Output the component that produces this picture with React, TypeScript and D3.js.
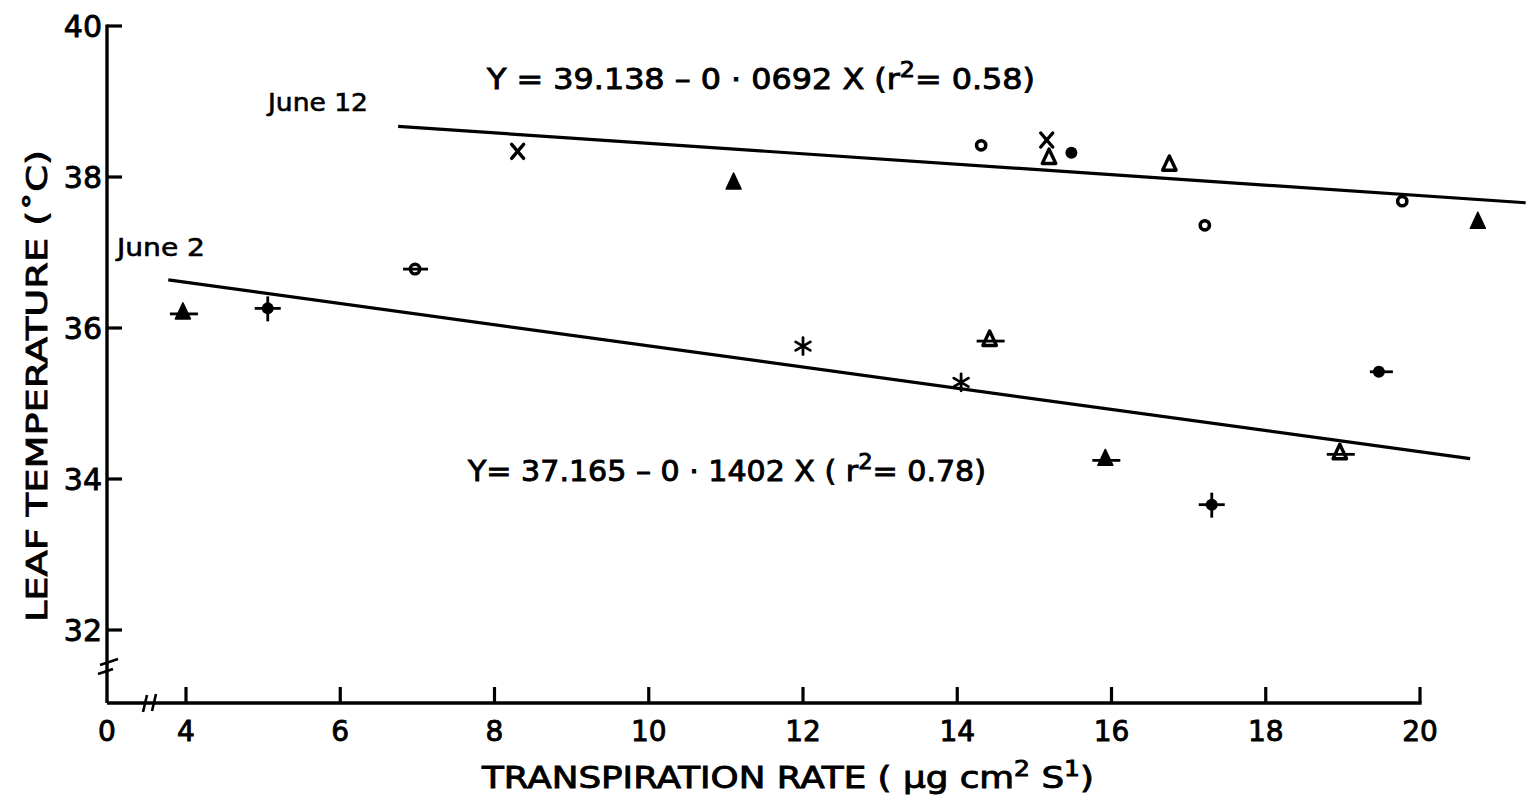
import React from "react";
import * as d3 from "d3";

// Transpiration rate (µg cm-2 s-1) vs. leaf temperature (°C)
const june12X = [8.3, 11.1, 14.31, 15.16, 15.19, 15.48, 16.75, 17.21, 19.77, 20.75];
const june12Y = [38.34, 37.92, 38.42, 38.49, 38.25, 38.32, 38.16, 37.36, 37.68, 37.4];
const june12Sym = ["cross", "triFill", "ring", "cross", "triOpen", "dot", "triOpen", "ring", "ring", "triFill"];

const june2X = [3.96, 5.06, 6.97, 12.0, 14.05, 14.42, 15.92, 17.3, 18.96, 19.48];
const june2Y = [36.2, 36.26, 36.78, 35.76, 35.28, 35.84, 34.26, 33.66, 34.34, 35.42];
const june2Sym = ["triFillDash", "plusDot", "ringDash", "star", "star", "triOpenDash", "triFillDash", "plusDot", "triOpenDash", "dotDash"];

// Fitted regressions: Y = a - b X
const fit12 = { a: 39.138, b: 0.0692, from: 6.75, to: 21.37 };
const fit2 = { a: 37.165, b: 0.1402, from: 3.77, to: 20.65 };

const xTicks = [4, 6, 8, 10, 12, 14, 16, 18, 20];
const yTicks = [32, 34, 36, 38, 40];

const FONT = "'DejaVu Sans', 'Liberation Sans', sans-serif";

const x = d3.scaleLinear().domain([4, 20]).range([186, 1420]);
const y = d3.scaleLinear().domain([32, 40]).range([630, 26]);
const originX = 107;
const originY = 703;

function Marker({ kind, cx, cy }: { kind: string; cx: number; cy: number }) {
  const sw = 3.4;
  const tri = (s: number) =>
    `M${cx},${cy - s} L${cx + s * 0.75},${cy + s * 0.6} L${cx - s * 0.75},${cy + s * 0.6} Z`;
  const dash = <line x1={cx - 13} x2={cx + 15} y1={cy + 1} y2={cy + 1} stroke="#000" strokeWidth={2.8} />;
  switch (kind) {
    case "cross":
      return (
        <g stroke="#000" strokeWidth={3.4} strokeLinecap="round">
          <line x1={cx - 6} y1={cy - 7} x2={cx + 6} y2={cy + 7} />
          <line x1={cx + 6} y1={cy - 7} x2={cx - 6} y2={cy + 7} />
        </g>
      );
    case "triFill":
      return <path d={tri(10)} fill="#000" stroke="#000" strokeWidth={1.5} strokeLinejoin="round" />;
    case "triOpen":
      return <path d={tri(9)} fill="none" stroke="#000" strokeWidth={sw} strokeLinejoin="round" />;
    case "ring":
      return <circle cx={cx} cy={cy} r={4.6} fill="none" stroke="#000" strokeWidth={3.6} />;
    case "dot":
      return <circle cx={cx} cy={cy} r={6} fill="#000" />;
    case "triFillDash":
      return (
        <g>
          <path d={tri(10)} fill="#000" stroke="#000" strokeWidth={1.5} strokeLinejoin="round" />
          {dash}
        </g>
      );
    case "triOpenDash":
      return (
        <g>
          <path d={tri(9)} fill="none" stroke="#000" strokeWidth={sw} strokeLinejoin="round" />
          {dash}
        </g>
      );
    case "ringDash":
      return (
        <g>
          <circle cx={cx} cy={cy} r={4.8} fill="none" stroke="#000" strokeWidth={3.4} />
          <line x1={cx - 12} x2={cx + 13} y1={cy} y2={cy} stroke="#000" strokeWidth={2.8} />
        </g>
      );
    case "dotDash":
      return (
        <g>
          <circle cx={cx - 1} cy={cy} r={6} fill="#000" />
          <line x1={cx - 10} x2={cx + 13} y1={cy} y2={cy} stroke="#000" strokeWidth={2.8} />
        </g>
      );
    case "plusDot":
      return (
        <g>
          <circle cx={cx} cy={cy} r={6} fill="#000" />
          <line x1={cx - 13} x2={cx + 13} y1={cy} y2={cy} stroke="#000" strokeWidth={2.8} />
          <line x1={cx} x2={cx} y1={cy - 12} y2={cy + 13} stroke="#000" strokeWidth={2.8} />
        </g>
      );
    case "star":
      return (
        <g stroke="#000" strokeWidth={2.8} strokeLinecap="round">
          {[0, 60, 120].map((a) => {
            const r = (a * Math.PI) / 180;
            const dx = Math.sin(r) * 8.5;
            const dy = Math.cos(r) * 8.5;
            return <line key={a} x1={cx - dx} y1={cy - dy} x2={cx + dx} y2={cy + dy} />;
          })}
        </g>
      );
    default:
      return null;
  }
}

function FitLine({ f }: { f: { a: number; b: number; from: number; to: number } }) {
  const pts: [number, number][] = [f.from, f.to].map((v) => [x(v), y(f.a - f.b * v)]);
  const line = d3.line();
  return <path d={line(pts) || ""} fill="none" stroke="#000" strokeWidth={3.2} />;
}

export default function App() {
  return (
    <svg width={1526} height={807} style={{ position: "absolute", left: 0, top: 0, background: "#fff" }} fontFamily={FONT}>
      <rect width={1526} height={807} fill="#fff" />

      {/* y axis */}
      <line x1={originX} x2={originX} y1={y(40) - 1.5} y2={originY} stroke="#000" strokeWidth={3.4} />
      <g stroke="#000" strokeWidth={0.9}>
        {yTicks.map((t) => (
          <g key={t}>
            <line x1={originX} x2={originX + 15} y1={y(t)} y2={y(t)} stroke="#000" strokeWidth={3.2} />
            <text x={originX - 5} y={y(t) + 11} textAnchor="end" fontSize={30}>
              {t}
            </text>
          </g>
        ))}
      </g>
      {/* y axis break */}
      <line x1={originX - 7} x2={originX + 11} y1={665} y2={659} stroke="#000" strokeWidth={2.6} />
      <line x1={originX - 9} x2={originX + 6} y1={674} y2={669} stroke="#000" strokeWidth={2.6} />

      {/* x axis */}
      <line x1={originX} x2={x(20) + 1.6} y1={originY} y2={originY} stroke="#000" strokeWidth={3.4} />
      <g stroke="#000" strokeWidth={0.9}>
        {xTicks.map((t) => (
          <g key={t}>
            <line x1={x(t)} x2={x(t)} y1={originY} y2={originY - 16} stroke="#000" strokeWidth={3.2} />
            <text x={x(t)} y={741} textAnchor="middle" fontSize={28}>
              {t}
            </text>
          </g>
        ))}
        <text x={originX} y={741} textAnchor="middle" fontSize={28}>
          0
        </text>
      </g>
      {/* x axis break */}
      <line x1={143} x2={147} y1={712} y2={695} stroke="#000" strokeWidth={2.6} />
      <line x1={152} x2={156} y1={711} y2={694} stroke="#000" strokeWidth={2.6} />

      {/* regression lines */}
      <FitLine f={fit12} />
      <FitLine f={fit2} />

      {june12X.map((v, i) => (
        <Marker key={"a" + i} kind={june12Sym[i]} cx={x(v)} cy={y(june12Y[i])} />
      ))}
      {june2X.map((v, i) => (
        <Marker key={"b" + i} kind={june2Sym[i]} cx={x(v)} cy={y(june2Y[i])} />
      ))}

      {/* annotations */}
      <g stroke="#000" strokeWidth={0.6}>
        <text x={268} y={111} fontSize={24} textLength={100} lengthAdjust="spacingAndGlyphs">
          June 12
        </text>
        <text x={117} y={256} fontSize={24} textLength={88} lengthAdjust="spacingAndGlyphs">
          June 2
        </text>
      </g>
      <g stroke="#000" strokeWidth={0.9}>
        <text x={487} y={89} fontSize={28} textLength={548} lengthAdjust="spacingAndGlyphs">
          Y = 39.138 – 0 · 0692 X  (r<tspan dy={-12} fontSize={21}>2</tspan><tspan dy={12}>= 0.58)</tspan>
        </text>
        <text x={468} y={481} fontSize={28} textLength={518} lengthAdjust="spacingAndGlyphs">
          Y= 37.165 – 0 · 1402 X ( r<tspan dy={-12} fontSize={21}>2</tspan><tspan dy={12}>= 0.78)</tspan>
        </text>

        {/* axis titles */}
        <text x={482} y={788} fontSize={30} textLength={612} lengthAdjust="spacingAndGlyphs">
          TRANSPIRATION RATE ( µg cm<tspan dy={-12} fontSize={21}>2</tspan>
          <tspan dy={12}> S</tspan>
          <tspan dy={-12} fontSize={21}>1</tspan>
          <tspan dy={12}>)</tspan>
        </text>
        <text
          transform="translate(47,622) rotate(-90)"
          fontSize={29}
          textLength={472}
          lengthAdjust="spacingAndGlyphs"
        >
          LEAF TEMPERATURE (˚C)
        </text>
      </g>
    </svg>
  );
}
